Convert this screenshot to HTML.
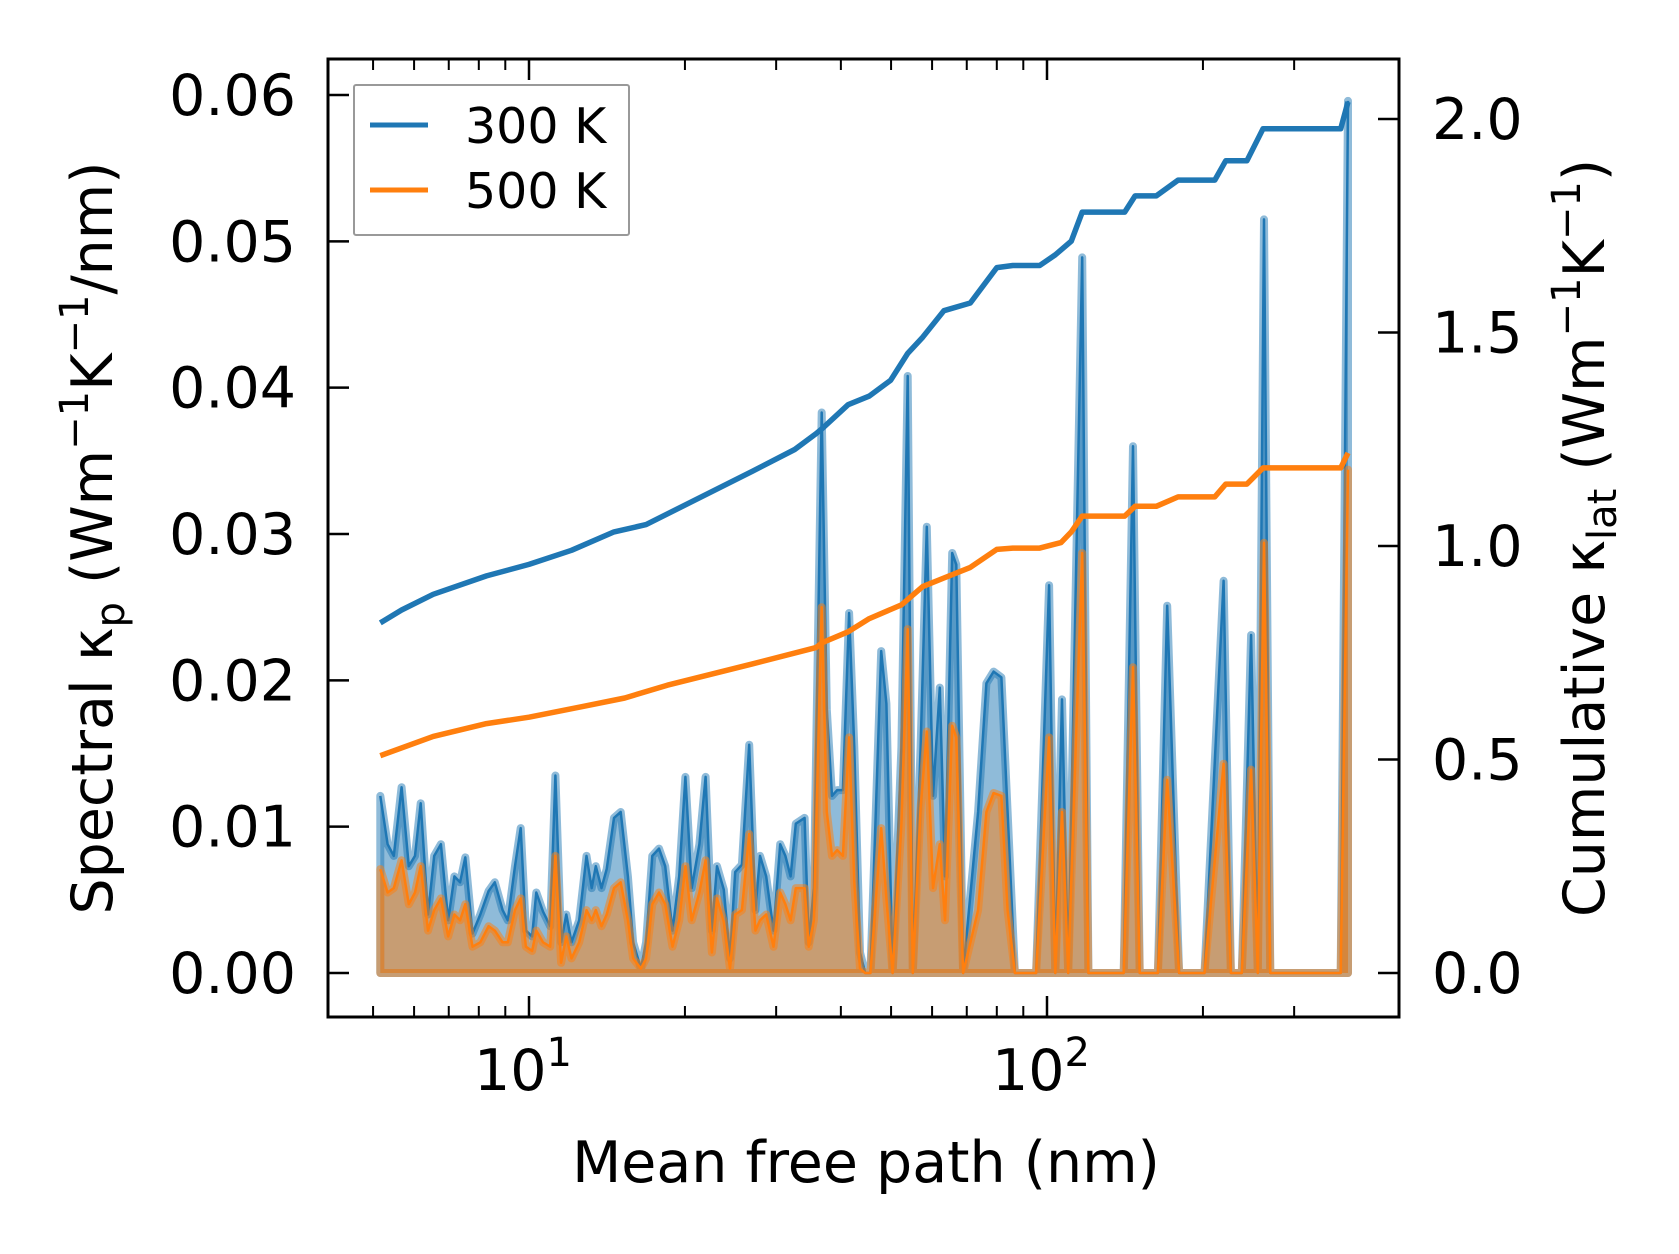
<!DOCTYPE html>
<html><head><meta charset="utf-8">
<style>
html,body{margin:0;padding:0;background:#fff;}
svg{display:block;font-family:"DejaVu Sans","Liberation Sans",sans-serif;}
</style></head>
<body>
<svg id="chart" width="1679" height="1254" viewBox="0 0 1679 1254" xmlns="http://www.w3.org/2000/svg">
<rect x="0" y="0" width="1679" height="1254" fill="#fff"/>
<g id="plot"></g>
<g id="axes"></g>
</svg>
<script>
// ---- data ----
const specLogMfp = [0.713,0.727,0.739,0.754,0.768,0.780,0.791,0.805,0.817,0.830,0.844,0.856,0.867,0.877,0.891,0.906,0.922,0.934,0.949,0.959,0.973,0.984,0.994,1.006,1.014,1.027,1.041,1.051,1.062,1.072,1.082,1.097,1.111,1.121,1.129,1.140,1.150,1.164,1.177,1.191,1.201,1.216,1.226,1.238,1.251,1.263,1.277,1.290,1.302,1.314,1.329,1.341,1.353,1.363,1.376,1.388,1.398,1.411,1.425,1.437,1.446,1.458,1.472,1.485,1.495,1.505,1.515,1.532,1.540,1.550,1.565,1.575,1.585,1.595,1.606,1.618,1.628,1.639,1.649,1.659,1.680,1.690,1.702,1.719,1.731,1.741,1.756,1.768,1.780,1.793,1.803,1.817,1.825,1.838,1.867,1.883,1.897,1.912,1.924,1.938,1.979,2.004,2.016,2.029,2.041,2.068,2.080,2.148,2.166,2.179,2.214,2.232,2.255,2.304,2.341,2.355,2.376,2.394,2.407,2.419,2.431,2.567,2.581];
const spec300 = [12.1,8.8,8.0,12.7,7.3,8.0,11.6,4.0,8.0,8.8,3.6,6.6,6.2,7.9,2.7,4.0,5.6,6.2,4.3,3.6,7.3,9.9,2.9,2.5,5.5,4.2,3.2,13.5,2.1,4.0,2.1,3.6,8.0,5.8,7.3,5.8,7.1,10.6,11.0,6.6,2.1,0.3,2.1,8.0,8.5,7.3,2.9,6.6,13.4,5.8,8.8,13.4,2.9,7.3,5.7,1.0,6.9,7.4,15.6,4.3,8.0,6.6,2.9,8.8,8.0,6.6,10.2,10.6,2.1,5.8,38.3,18.0,12.1,12.5,12.5,24.6,15.4,1.4,0,0,22.0,18.4,0,15.4,40.8,0,15.4,30.5,12.1,19.5,6.6,28.7,27.9,0,11.0,19.8,20.6,20.2,11.0,0,0,26.5,0,18.7,0,48.9,0,0,36.0,0,0,25.1,0,0,26.8,0,0,23.1,0,51.5,0,0,59.6];
const spec500 = [7.1,5.5,5.8,7.7,4.7,5.5,7.3,2.9,4.3,5.1,2.5,4.0,3.6,4.7,1.8,2.1,3.2,2.9,2.1,2.1,4.3,5.1,1.8,1.5,2.9,2.1,1.8,8.0,0.7,2.5,1.0,2.1,4.3,3.6,4.3,3.2,4.0,5.8,6.2,3.6,1.0,0.3,1.0,4.7,5.5,4.7,1.8,3.6,7.3,3.6,5.5,7.7,1.4,5.1,3.5,0.3,4.0,4.3,9.5,2.9,3.6,4.0,1.8,5.5,4.7,3.6,5.8,5.8,1.8,3.6,25.0,11.0,8.0,8.4,8.0,16.1,6.2,0.3,0,0,9.9,5.1,0,10.2,23.5,0,11.3,16.5,5.8,8.8,3.6,16.9,16.1,0,4.3,11.0,12.3,12.1,4.3,0,0,16.1,0,11.0,0,28.7,0,0,20.9,0,0,13.2,0,0,14.3,0,0,13.9,0,29.4,0,0,34.4];
const cum300LogMfp = [0.713,0.754,0.815,0.918,1.0,1.082,1.164,1.226,1.308,1.431,1.513,1.554,1.567,1.616,1.657,1.698,1.731,1.760,1.801,1.852,1.903,1.934,1.986,2.016,2.047,2.068,2.150,2.170,2.211,2.253,2.324,2.345,2.386,2.417,2.567,2.581];
const cum300 = [0.820,0.850,0.887,0.930,0.957,0.990,1.033,1.050,1.100,1.175,1.226,1.263,1.276,1.331,1.351,1.388,1.451,1.489,1.551,1.569,1.652,1.657,1.657,1.682,1.714,1.782,1.782,1.820,1.820,1.857,1.857,1.902,1.902,1.977,1.977,2.040];
const cum500LogMfp = [0.713,0.815,0.918,1.0,1.103,1.185,1.267,1.431,1.554,1.567,1.616,1.657,1.719,1.760,1.801,1.852,1.903,1.934,1.986,2.027,2.047,2.068,2.150,2.170,2.211,2.253,2.324,2.345,2.386,2.417,2.567,2.581];
const cum500 = [0.509,0.554,0.584,0.599,0.624,0.644,0.674,0.724,0.762,0.774,0.799,0.830,0.862,0.905,0.925,0.950,0.992,0.995,0.995,1.008,1.033,1.070,1.070,1.093,1.093,1.115,1.115,1.145,1.145,1.183,1.183,1.218];
const leftTicks = [0,0.01,0.02,0.03,0.04,0.05,0.06];
const leftTickLabels = ["0.00","0.01","0.02","0.03","0.04","0.05","0.06"];
const rightTicks = [0,0.5,1.0,1.5,2.0];
const rightTickLabels = ["0.0","0.5","1.0","1.5","2.0"];
const xMajor = [10,100];
const xMajorExp = ["1","2"];
const xMinor = [5,6,7,8,9,20,30,40,50,60,70,80,90,200,300];

// ---- axes geometry ----
const L=328, R=1399, T=59, B=1017;
const X = v => 529 + (Math.log10(v)-1)*518;
const XL = lg => 529 + (lg-1)*518;
const YL = v => 973 - v/0.06*878;
const YR = v => 973 - v/2.0*854;
const NS="http://www.w3.org/2000/svg";
const plot=document.getElementById('plot'), axes=document.getElementById('axes');
function mk(tag, parent, attrs){const e=document.createElementNS(NS,tag);for(const k in attrs)e.setAttribute(k,attrs[k]);parent.appendChild(e);return e;}

const defs=mk('defs',plot,{});
const cp=mk('clipPath',defs,{id:'clip'});
mk('rect',cp,{x:L,y:T,width:R-L,height:B-T});
const g=mk('g',plot,{'clip-path':'url(#clip)'});

function drawSpec(vals,color,name){
  let pts=specLogMfp.map((lg,i)=>XL(lg).toFixed(1)+','+YL(vals[i]/1000).toFixed(1));
  const x0=XL(specLogMfp[0]).toFixed(1), x1=XL(specLogMfp[specLogMfp.length-1]).toFixed(1), y0=YL(0).toFixed(1);
  const area=mk('polygon',g,{points:x0+','+y0+' '+pts.join(' ')+' '+x1+','+y0,fill:color,'fill-opacity':0.5,stroke:color,'stroke-opacity':0.5,'stroke-width':8,'stroke-linejoin':'round'});
  
  
  const ln=mk('polyline',g,{points:pts.join(' '),fill:'none',stroke:color,'stroke-width':2.5,'stroke-linejoin':'round'});
  
  
}
drawSpec(spec300,'#1f77b4','spectral-300k');
drawSpec(spec500,'#ff7f0e','spectral-500k');

function drawCum(lx,vals,color,name){
  const pts=lx.map((lg,i)=>XL(lg).toFixed(1)+','+YR(vals[i]).toFixed(1));
  const ln=mk('polyline',g,{points:pts.join(' '),fill:'none',stroke:color,'stroke-width':5.5,'stroke-linejoin':'round'});
  
  
}
drawCum(cum300LogMfp,cum300,'#1f77b4','cumulative-300k');
drawCum(cum500LogMfp,cum500,'#ff7f0e','cumulative-500k');

const frame=mk('rect',axes,{x:L,y:T,width:R-L,height:B-T,fill:'none',stroke:'#000','stroke-width':3});



const FS=57;
leftTicks.forEach((v,i)=>{
  const y=YL(v);
  const t=mk('line',axes,{x1:L,x2:L+21,y1:y,y2:y,stroke:'#000','stroke-width':2.5});
  
  
  const tx=mk('text',axes,{x:296,y:y+20,'text-anchor':'end','font-size':FS,fill:'#000'});
  tx.textContent=leftTickLabels[i];
  
  
});
rightTicks.forEach((v,i)=>{
  const y=YR(v);
  const t=mk('line',axes,{x1:R-21,x2:R,y1:y,y2:y,stroke:'#000','stroke-width':2.5});
  
  
  const tx=mk('text',axes,{x:1432,y:y+20,'text-anchor':'start','font-size':FS,fill:'#000'});
  tx.textContent=rightTickLabels[i];
  
  
});
xMajor.forEach((v,i)=>{
  const x=X(v);
  [[B,B-21],[T,T+21]].forEach(p=>{
    const t=mk('line',axes,{x1:x,x2:x,y1:p[0],y2:p[1],stroke:'#000','stroke-width':2.5});
    
    
  });
  const tx=mk('text',axes,{x:x-6,y:1090,'text-anchor':'middle','font-size':FS,fill:'#000'});
  tx.innerHTML='10<tspan font-size="40" dy="-24">'+xMajorExp[i]+'</tspan>';
  
  
});
xMinor.forEach(v=>{
  const x=X(v);
  [[B,B-11],[T,T+11]].forEach(p=>{
    const t=mk('line',axes,{x1:x,x2:x,y1:p[0],y2:p[1],stroke:'#000','stroke-width':2});
    
    
  });
});
</script>
<svg style="position:absolute;left:0;top:0" width="1679" height="1254" viewBox="0 0 1679 1254" xmlns="http://www.w3.org/2000/svg" font-family="DejaVu Sans, Liberation Sans, sans-serif">
<text x="866" y="1182" text-anchor="middle" font-size="57">Mean free path (nm)</text>
<text transform="translate(112,538) rotate(-90)" text-anchor="middle" font-size="57">Spectral κ<tspan font-size="40" dy="12">p</tspan><tspan dy="-12"> (Wm</tspan><tspan font-size="40" dy="-24">−1</tspan><tspan dy="24">K</tspan><tspan font-size="40" dy="-24">−1</tspan><tspan dy="24">/nm)</tspan></text>
<text transform="translate(1604,538) rotate(-90)" text-anchor="middle" font-size="57">Cumulative κ<tspan font-size="40" dy="12">lat</tspan><tspan dy="-12"> (Wm</tspan><tspan font-size="40" dy="-24">−1</tspan><tspan dy="24">K</tspan><tspan font-size="40" dy="-24">−1</tspan><tspan dy="24">)</tspan></text>
<g>
<rect x="354" y="85" width="275" height="150" fill="#fff" fill-opacity="0.8" stroke="#999" stroke-width="2" rx="2"/>
<line x1="370" x2="428" y1="125" y2="125" stroke="#1f77b4" stroke-width="5"/>
<text x="465" y="143" font-size="49">300 K</text>
<line x1="370" x2="428" y1="190" y2="190" stroke="#ff7f0e" stroke-width="5"/>
<text x="465" y="208" font-size="49">500 K</text>
</g>
</svg>
</body></html>
